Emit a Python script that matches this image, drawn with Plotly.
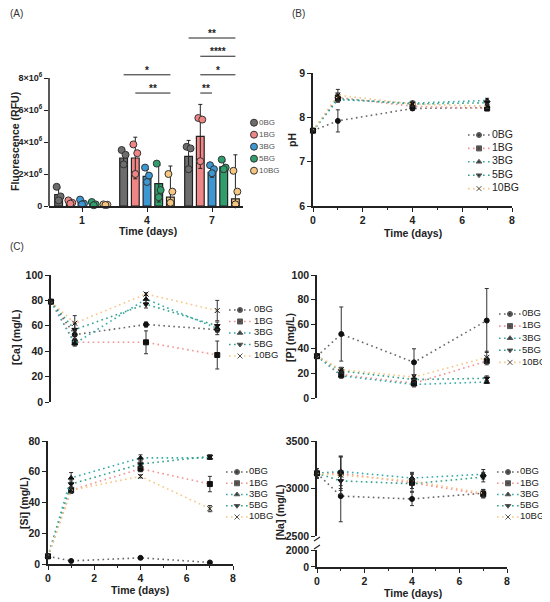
import plotly.graph_objects as go

# ---- data ----
series = ['0BG', '1BG', '3BG', '5BG', '10BG']
days_bar = ['1', '4', '7']
days = [0, 1, 4, 7]

# (A) fluorescence, units of 1e6 RFU
fluo_mean = {
    '0BG': [0.72, 3.0, 3.1],
    '1BG': [0.23, 3.0, 4.35],
    '3BG': [0.18, 1.85, 2.1],
    '5BG': [0.12, 1.4, 2.45],
    '10BG': [0.08, 0.55, 0.45],
}
fluo_sd = {
    '0BG': [0.4, 0.35, 1.0],
    '1BG': [0.1, 1.3, 2.0],
    '3BG': [0.15, 0.45, 0.3],
    '5BG': [0.1, 1.15, 0.35],
    '10BG': [0.03, 1.95, 2.75],
}
fluo_pts = {
    '0BG': [[1.2, 0.6, 0.35], [3.5, 3.2, 2.6], [3.7, 3.6, 2.3]],
    '1BG': [[0.35, 0.2, 0.15], [3.85, 3.3, 2.0], [5.5, 5.4, 2.8]],
    '3BG': [[0.4, 0.15, 0.1], [2.4, 1.9, 1.5], [2.55, 2.3, 2.05]],
    '5BG': [[0.25, 0.1, 0.05], [2.65, 1.0, 0.55], [2.9, 2.4, 2.3]],
    '10BG': [[0.1, 0.08, 0.06], [2.0, 0.9, 0.2], [2.2, 0.9, 0.1]],
}
# significance: (day index, from series, to series, level 1e6, label)
sig = [
    (1, '0BG', '10BG', 8.2, '*'),
    (1, '1BG', '10BG', 7.06, '**'),
    (2, '1BG', '3BG', 7.06, '**'),
    (2, '1BG', '10BG', 8.2, '*'),
    (2, '1BG', '10BG', 9.36, '****'),
    (2, '0BG', '10BG', 10.5, '**'),
]

# (B) pH
ph = {
    '0BG': [7.7, 7.92, 8.2, 8.22],
    '1BG': [7.7, 8.45, 8.25, 8.2],
    '3BG': [7.7, 8.4, 8.32, 8.38],
    '5BG': [7.7, 8.42, 8.3, 8.33],
    '10BG': [7.7, 8.5, 8.3, 8.25],
}
ph_sd = {
    '0BG': [0.02, 0.25, 0.04, 0.05],
    '1BG': [0.02, 0.1, 0.06, 0.05],
    '3BG': [0.02, 0.06, 0.05, 0.05],
    '5BG': [0.02, 0.06, 0.05, 0.05],
    '10BG': [0.02, 0.13, 0.05, 0.05],
}

# (C) ion concentrations (mg/L)
ca = {
    '0BG': [79, 53, 61, 57],
    '1BG': [79, 47, 47, 37],
    '3BG': [79, 46, 81, 58],
    '5BG': [79, 57, 77, 60],
    '10BG': [79, 62, 85, 72],
}
ca_sd = {
    '0BG': [1, 3, 2, 4],
    '1BG': [1, 2, 9, 11],
    '3BG': [1, 2, 3, 3],
    '5BG': [1, 5, 3, 3],
    '10BG': [1, 6, 1, 8],
}
p = {
    '0BG': [34, 52, 29, 63],
    '1BG': [34, 19, 12, 30],
    '3BG': [34, 18, 11, 13],
    '5BG': [34, 22, 15, 16],
    '10BG': [34, 23, 17, 33],
}
p_sd = {
    '0BG': [1, 22, 11, 26],
    '1BG': [1, 2, 2, 3],
    '3BG': [1, 2, 2, 1],
    '5BG': [1, 2, 2, 2],
    '10BG': [1, 2, 2, 5],
}
si = {
    '0BG': [5, 2, 4, 1],
    '1BG': [5, 48, 62, 52],
    '3BG': [5, 56, 69, 69],
    '5BG': [5, 52, 65, 70],
    '10BG': [5, 48, 57, 36],
}
si_sd = {
    '0BG': [0.5, 0.5, 0.5, 0.5],
    '1BG': [0.5, 2, 2, 5],
    '3BG': [0.5, 3.5, 2, 1],
    '5BG': [0.5, 2, 2, 1],
    '10BG': [0.5, 2, 1, 2],
}
na = {
    '0BG': [3160, 2920, 2890, 2950],
    '1BG': [3160, 3160, 3060, 2940],
    '3BG': [3160, 3180, 3110, 3150],
    '5BG': [3160, 3080, 3050, 3120],
    '10BG': [3160, 3140, 3080, 2950],
}
na_sd = {
    '0BG': [50, 270, 70, 40],
    '1BG': [50, 180, 90, 40],
    '3BG': [50, 150, 60, 50],
    '5BG': [50, 80, 50, 50],
    '10BG': [50, 200, 80, 40],
}

# ---- style ----
# the page body keeps its 8px default margin, so the figure is sized to
# fill the rest of the 550x602 window and positions are given in window px
PAD = 8
W, H = 550 - PAD, 602 - PAD
FONT = 'Liberation Sans, Arial, sans-serif'
bar_colors = ['#6d6d6d', '#f08585', '#3d97d3', '#2f9e6c', '#f6c680']
line_colors = ['#666666', '#f29292', '#35aaaa', '#30a088', '#f6c785']
symbols = ['circle', 'square', 'triangle-up', 'triangle-down', 'x-thin']
offsets = [-0.36, -0.18, 0.0, 0.18, 0.36]
jitter = [-0.03, 0.03, 0.0]
DOT = '1.6px,3.4px'


def fx(px):
    return (px - PAD) / W


def fy(py):
    return 1 - (py - PAD) / H


fig = go.Figure()

# ---- (A) bars + points ----
for k, s in enumerate(series):
    xs = [g + offsets[k] for g in range(len(days_bar))]
    fig.add_trace(go.Bar(
        x=xs, y=[v * 1e6 for v in fluo_mean[s]], width=0.12,
        marker=dict(color=bar_colors[k], line=dict(color='#222', width=1.2)),
        error_y=dict(type='data', array=[v * 1e6 for v in fluo_sd[s]],
                     color='#222', thickness=1, width=2),
        showlegend=False, xaxis='x', yaxis='y'))
for k, s in enumerate(series):
    px_, py_ = [], []
    for g in range(len(days_bar)):
        for j, v in enumerate(fluo_pts[s][g]):
            px_.append(g + offsets[k] + jitter[j])
            py_.append(v * 1e6)
    fig.add_trace(go.Scatter(
        x=px_, y=py_, mode='markers', showlegend=False,
        marker=dict(color=bar_colors[k], size=7, line=dict(color='#333', width=1)),
        xaxis='x', yaxis='y', cliponaxis=False))

shapes = []
annotations = []
for g, a, b, lvl, lab in sig:
    x0 = g + offsets[series.index(a)]
    x1 = g + offsets[series.index(b)]
    shapes.append(dict(type='line', xref='x', yref='y', x0=x0, x1=x1,
                       y0=lvl * 1e6, y1=lvl * 1e6, line=dict(color='#222', width=1)))
    annotations.append(dict(x=(x0 + x1) / 2, y=lvl * 1e6, xref='x', yref='y',
                            text='<b>' + lab + '</b>', showarrow=False,
                            yanchor='bottom', yshift=-3, font=dict(size=10, color='#222')))
# y-axis line of panel A only up to 8e6
shapes.append(dict(type='line', xref='paper', yref='y', x0=fx(49), x1=fx(49),
                   y0=0, y1=8e6, line=dict(color='#222', width=1.5)))


def line_panel(data, sd, xa, ya):
    for k, s in enumerate(series):
        fig.add_trace(go.Scatter(
            x=days, y=data[s], mode='lines+markers', name=s, showlegend=False,
            line=dict(color=line_colors[k], dash=DOT, width=1.6),
            marker=dict(symbol=symbols[k], color='#111', size=5,
                        line=dict(color='#111', width=1)),
            error_y=dict(type='data', array=sd[s], color='#333', thickness=1, width=2),
            xaxis=xa, yaxis=ya, cliponaxis=False))


line_panel(ph, ph_sd, 'x2', 'y2')
line_panel(ca, ca_sd, 'x3', 'y3')
line_panel(p, p_sd, 'x4', 'y4')
line_panel(si, si_sd, 'x5', 'y5')
line_panel(na, na_sd, 'x6', 'y6')
# keeps the lower part of the broken [Na] axis on the page
fig.add_trace(go.Scatter(x=[None], y=[None], xaxis='x6', yaxis='y7',
                         showlegend=False, hoverinfo='skip'))

# ---- compact legends, each on its own hidden axis pair ----
legend_axes = {}


def add_legend(n, mx, y0, sp, txt_off, size, color, bars=False):
    xa, ya = 'x%d' % n, 'y%d' % n
    legend_axes['xaxis%d' % n] = dict(domain=[fx(mx - 14), fx(mx + 30)], range=[-14, 30],
                                      visible=False, fixedrange=True, anchor=ya)
    legend_axes['yaxis%d' % n] = dict(domain=[fy(y0 + 4.5 * sp), fy(y0 - 0.5 * sp)],
                                      range=[4.5, -0.5], visible=False, fixedrange=True,
                                      anchor=xa)
    for k, s in enumerate(series):
        if bars:
            fig.add_trace(go.Scatter(
                x=[0], y=[k], mode='markers', showlegend=False, hoverinfo='skip',
                marker=dict(color=bar_colors[k], size=7, line=dict(color='#333', width=1)),
                xaxis=xa, yaxis=ya, cliponaxis=False))
        else:
            fig.add_trace(go.Scatter(
                x=[-11, 0, 11], y=[k, k, k], mode='lines+markers', showlegend=False,
                hoverinfo='skip', line=dict(color=line_colors[k], dash=DOT, width=1.6),
                marker=dict(symbol=symbols[k], color='#111', size=[0, 5, 0],
                            line=dict(color='#111', width=1)),
                xaxis=xa, yaxis=ya, cliponaxis=False))
    fig.add_trace(go.Scatter(
        x=[txt_off] * len(series), y=list(range(len(series))), text=series,
        mode='text', textposition='middle right', showlegend=False, hoverinfo='skip',
        textfont=dict(family=FONT, size=size, color=color),
        xaxis=xa, yaxis=ya, cliponaxis=False))


add_legend(8, 254, 122.7, 12.0, 5, 8, '#555', bars=True)
add_legend(9, 479, 135, 13.4, 13, 10.5, '#222')
add_legend(10, 240, 310, 11.5, 14, 9.5, '#222')
add_legend(11, 510, 314, 12.1, 12, 9.5, '#222')
add_legend(12, 237, 472, 11.25, 12, 9.5, '#222')
add_legend(13, 508, 472, 11.25, 12, 9.5, '#222')

# broken axis marks for [Na]
for yb in (539, 547):
    shapes.append(dict(type='line', xref='paper', yref='paper',
                       x0=fx(314), x1=fx(320), y0=fy(yb + 2), y1=fy(yb - 2),
                       line=dict(color='#222', width=1.2)))

# panel labels
for txt, x, y in [('(A)', 8, 14), ('(B)', 290, 14), ('(C)', 8, 246)]:
    annotations.append(dict(x=fx(x), y=fy(y), xref='paper', yref='paper', text=txt,
                            showarrow=False, xanchor='left', yanchor='middle',
                            font=dict(family=FONT, size=10, color='#333')))

# axis titles
titlef = dict(family=FONT, size=10.5, color='#222', weight='bold')
for txt, x, y, ang in [
    ('Time (days)', 148, 231, 0), ('Fluorescence (RFU)', 15, 142, -90),
    ('Time (days)', 413, 233, 0), ('pH', 292, 140, -90),
    ('[Ca] (mg/L)', 16, 338, -90), ('[P] (mg/L)', 290, 337, -90),
    ('[Si] (mg/L)', 24, 503, -90), ('Time (days)', 140, 590, 0),
    ('[Na] (mg/L)', 280, 513, -90), ('Time (days)', 413, 593, 0),
]:
    annotations.append(dict(x=fx(x), y=fy(y), xref='paper', yref='paper', text=txt,
                            showarrow=False, xanchor='center', yanchor='middle',
                            textangle=ang, font=titlef))

tickf = dict(family=FONT, size=10.5, color='#222', weight='bold')
ax_common = dict(showline=True, linecolor='#222', linewidth=1.5, ticks='outside',
                 ticklen=4, tickwidth=1, tickcolor='#222', showgrid=False,
                 zeroline=False, tickfont=tickf, fixedrange=True)
minor = dict(ticks='outside', ticklen=2, dtick=1, tickcolor='#222', showgrid=False)

fig.update_layout(
    width=W, height=H, margin=dict(l=0, r=0, t=0, b=0, autoexpand=False),
    plot_bgcolor='white', paper_bgcolor='white', showlegend=False,
    font=dict(family=FONT, color='#222'),
    shapes=shapes, annotations=annotations,
    # (A)
    xaxis=dict(domain=[fx(49), fx(243)], range=[-0.508, 2.477], anchor='y',
               tickvals=[0, 1, 2], ticktext=days_bar, **ax_common),
    yaxis=dict(domain=[fy(206), fy(31.6)], range=[0, 10.9e6], anchor='x',
               showline=False, ticks='outside', ticklen=4, tickwidth=1, tickcolor='#222',
               showgrid=False, zeroline=False, fixedrange=True,
               tickfont=dict(tickf, size=9),
               tickvals=[0, 2e6, 4e6, 6e6, 8e6],
               ticktext=['0', '2×10<sup>6</sup>', '4×10<sup>6</sup>', '6×10<sup>6</sup>', '8×10<sup>6</sup>']),
    # (B)
    xaxis2=dict(domain=[fx(313), fx(512)], range=[0, 8], anchor='y2', dtick=2, minor=minor,
                **ax_common),
    yaxis2=dict(domain=[fy(206), fy(73)], range=[6, 9], anchor='x2', dtick=1, **ax_common),
    # [Ca]
    xaxis3=dict(domain=[fx(51), fx(241)], range=[0, 8], anchor='y3', visible=False),
    yaxis3=dict(domain=[fy(402), fy(275)], range=[0, 100], anchor='x3', dtick=20, **ax_common),
    # [P]
    xaxis4=dict(domain=[fx(317), fx(511)], range=[0, 8], anchor='y4', visible=False),
    yaxis4=dict(domain=[fy(398), fy(275)], range=[0, 100], anchor='x4', dtick=20, **ax_common),
    # [Si]
    xaxis5=dict(domain=[fx(48), fx(233)], range=[0, 8], anchor='y5', dtick=2, minor=minor,
                **ax_common),
    yaxis5=dict(domain=[fy(564), fy(441)], range=[0, 80], anchor='x5', dtick=20, **ax_common),
    # [Na] with broken y axis
    xaxis6=dict(domain=[fx(317), fx(507)], range=[0, 8], anchor='y7', dtick=2, minor=minor,
                **ax_common),
    yaxis6=dict(domain=[fy(536), fy(441)], range=[2500, 3500], anchor='x6', dtick=500,
                **ax_common),
    yaxis7=dict(domain=[fy(567), fy(550)], range=[-20, 2000], anchor='x6',
                tickvals=[0, 2000], **ax_common),
    **legend_axes,
)

fig.write_html('out.html')
